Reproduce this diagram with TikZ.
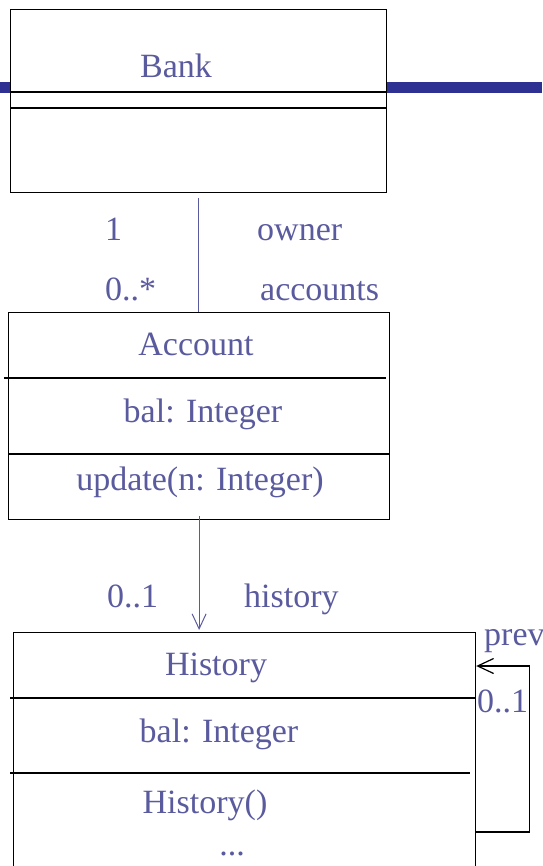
\documentclass[tikz,border=0pt]{standalone}
\usepackage{fontspec}
\setmainfont{Liberation Serif}
\usetikzlibrary{arrows.meta,calc}
\definecolor{txtblue}{RGB}{90,90,158}
\definecolor{barblue}{RGB}{46,49,146}
\tikzset{
  umlbox/.style={draw=black, line width=1.2pt, fill=white, anchor=north west, inner sep=0pt},
  divider/.style={draw=black, line width=1.2pt},
  lbl/.style={text=txtblue, font=\fontsize{34}{40}\selectfont, inner sep=0pt},
  assoc/.style={draw=txtblue, line width=1pt},
  selfassoc/.style={draw=black, line width=1.2pt}
}
\begin{document}
\begin{tikzpicture}[x=1pt,y=1pt]
\useasboundingbox (0,0) rectangle (542,-866);
\clip (0,0) rectangle (542,-866);
% blue bar behind the Bank box
\fill[barblue] (0,-82) rectangle (542,-93);
% Bank
\node[umlbox, minimum width=376pt, minimum height=183pt] (bank) at (10,-9) {};
\draw[divider] (10,-92) -- (386,-92);
\draw[divider] (10,-108) -- (386,-108);
\node[lbl, anchor=base] (bankname) at (176,-78) {Bank};
% Account
\node[umlbox, minimum width=381pt, minimum height=207pt] (account) at (8,-312) {};
\draw[divider] (4,-378) -- (386,-378);
\draw[divider] (8,-454) -- (389,-454);
\node[lbl, anchor=base] (accname) at (196,-355) {Account};
\node[lbl, anchor=base] (accattr) at (203,-422) {bal: Integer};
\node[lbl, anchor=base] (accop) at (200,-490) {update(n: Integer)};
% History
\node[umlbox, minimum width=462pt, minimum height=260pt] (history) at (13,-632) {};
\draw[divider] (10,-698) -- (475,-698);
\draw[divider] (10,-773) -- (470,-773);
\node[lbl, anchor=base] (histname) at (216,-675) {History};
\node[lbl, anchor=base] (histattr) at (219,-742) {bal: Integer};
\node[lbl, anchor=base] (histop) at (205,-813) {History()};
\node[lbl, anchor=base] (histmore) at (232,-855) {...};
% association Bank -- Account
\draw[assoc, shorten <=5pt] (bank.south) -- (bank.south |- account.north);
\node[lbl, anchor=base west] (m1) at (105,-241) {1};
\node[lbl, anchor=base west] (r1) at (257,-241) {owner};
\node[lbl, anchor=base west] (m2) at (105,-300) {0..*};
\node[lbl, anchor=base west] (r2) at (260,-300) {accounts};
% association Account -> History
\draw[assoc, -{Straight Barb[length=15pt,width=14pt,line width=1pt]}, shorten <=-4pt, shorten >=2pt]
  (account.south) -- (account.south |- history.north);
\node[lbl, anchor=base west] (m3) at (107,-607) {0..1};
\node[lbl, anchor=base west] (r3) at (244,-607) {history};
% self association on History
\coordinate (loopstart) at ($(history.north east)+(0,-200)$);
\coordinate (loopend) at ($(history.north east)+(0,-34)$);
\draw[selfassoc, -{Straight Barb[length=16pt,width=15pt,line width=1.2pt]}]
  (loopstart) -- ++(53,0) |- (loopend);
\node[lbl, anchor=base west] (r4) at (484,-645) {prev};
\node[lbl, anchor=base west] (m4) at (477,-712) {0..1};
\end{tikzpicture}
\end{document}
